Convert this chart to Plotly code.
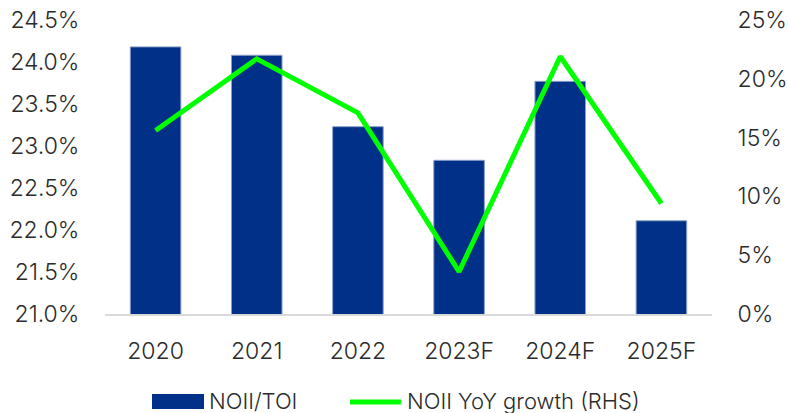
import plotly.graph_objects as go

categories = ["2020", "2021", "2022", "2023F", "2024F", "2025F"]
noii_toi = [24.18, 24.08, 23.23, 22.83, 23.77, 22.11]
noii_yoy = [15.6, 21.7, 17.1, 3.6, 21.9, 9.4]
left_ticks = [21.0, 21.5, 22.0, 22.5, 23.0, 23.5, 24.0, 24.5]
right_ticks = [0, 5, 10, 15, 20, 25]
series_names = ["NOII/TOI", "NOII YoY growth (RHS)"]

font_family = "Inter, Roboto, sans-serif"
txt = "#2b2b2b"
weight = 300
bar_color = "#003087"
line_color = "#00ff00"

W, H = 788, 413
ML, MR, MT, MB = 105, 76, 20, 99
PW, PH = W - ML - MR, H - MT - MB


def px_x(px):
    return (px - ML) / PW


def px_y(py):
    return (H - MB - py) / PH


tick_font = dict(size=23, color=txt, family=font_family, weight=weight)
leg_font = dict(size=22, color=txt, family=font_family, weight=weight)

fig = go.Figure()
fig.add_trace(go.Bar(
    x=categories, y=noii_toi, name=series_names[0],
    marker=dict(color=bar_color, line=dict(color="#8da0c8", width=1)),
    width=0.5, yaxis="y",
))
fig.add_trace(go.Scatter(
    x=categories, y=noii_yoy, name=series_names[1],
    mode="lines", line=dict(color=line_color, width=5), yaxis="y2",
))

# legend drawn below the chart (wide swatches as in the reference)
fig.add_shape(type="rect", xref="paper", yref="paper",
              x0=px_x(152), x1=px_x(204), y0=px_y(409), y1=px_y(394),
              fillcolor=bar_color, line=dict(width=0))
fig.add_annotation(xref="paper", yref="paper", x=px_x(207), y=px_y(401),
                   text=series_names[0], showarrow=False,
                   xanchor="left", yanchor="middle", font=leg_font)
fig.add_shape(type="line", xref="paper", yref="paper",
              x0=px_x(350), x1=px_x(401), y0=px_y(402), y1=px_y(402),
              line=dict(color=line_color, width=5))
fig.add_annotation(xref="paper", yref="paper", x=px_x(405), y=px_y(401),
                   text=series_names[1], showarrow=False,
                   xanchor="left", yanchor="middle", font=leg_font)

fig.update_layout(
    width=W, height=H,
    margin=dict(l=ML, r=MR, t=MT, b=MB, autoexpand=False),
    paper_bgcolor="white", plot_bgcolor="white",
    font=dict(family=font_family, size=23, color=txt),
    showlegend=False,
    xaxis=dict(
        showgrid=False, showline=True, linecolor="#d9d9d9", linewidth=1.5,
        ticks="outside", ticklen=16, tickcolor="rgba(0,0,0,0)",
        tickfont=tick_font,
    ),
    yaxis=dict(
        range=[21.0, 24.5], tickvals=left_ticks,
        ticktext=[f"{v:.1f}%" for v in left_ticks],
        showgrid=False, zeroline=False, showline=False,
        ticks="outside", ticklen=20, tickcolor="rgba(0,0,0,0)",
        tickfont=tick_font,
    ),
    yaxis2=dict(
        range=[0, 25], tickvals=right_ticks,
        ticktext=[f"{v}%" for v in right_ticks],
        overlaying="y", side="right",
        showgrid=False, zeroline=False, showline=False,
        ticks="outside", ticklen=20, tickcolor="rgba(0,0,0,0)",
        tickfont=tick_font,
    ),
)

fig.write_html(
    "out.html",
    config={"displayModeBar": False},
    post_script="document.body.style.margin='0';document.body.style.overflow='hidden';",
)
